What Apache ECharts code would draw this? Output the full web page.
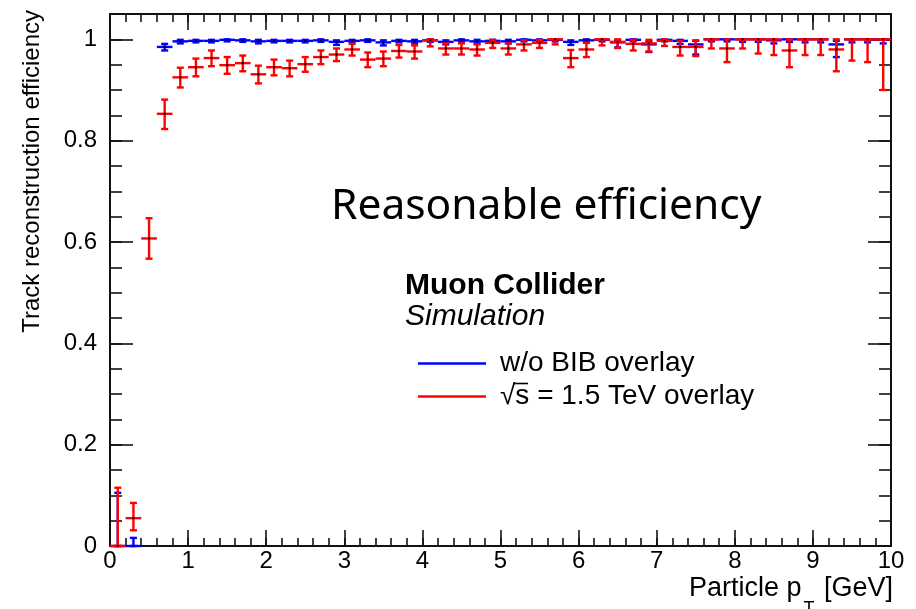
<!DOCTYPE html>
<html>
<head>
<meta charset="utf-8">
<script src="https://cdn.jsdelivr.net/npm/echarts@6/dist/echarts.min.js"></script>
<style>
  html, body { margin: 0; padding: 0; background: #ffffff; }
  #chart { width: 916px; height: 609px; }
</style>
</head>
<body>
<div id="chart"></div>
<script>
// Track-reconstruction efficiency vs particle pT, 0.2 GeV bins
const ptCenters = [
  0.1, 0.3, 0.5, 0.7, 0.9, 1.1, 1.3, 1.5, 1.7, 1.9,
  2.1, 2.3, 2.5, 2.7, 2.9, 3.1, 3.3, 3.5, 3.7, 3.9,
  4.1, 4.3, 4.5, 4.7, 4.9, 5.1, 5.3, 5.5, 5.7, 5.9,
  6.1, 6.3, 6.5, 6.7, 6.9, 7.1, 7.3, 7.5, 7.7, 7.9,
  8.1, 8.3, 8.5, 8.7, 8.9, 9.1, 9.3, 9.5, 9.7, 9.9
];
const binHalfWidth = 0.1;

// without beam-induced background
const effNoBIB = [
  0, 0, null, 0.985, 0.996, 0.997, 0.997, 0.999, 0.998, 0.996,
  0.997, 0.997, 0.997, 0.998, 0.995, 0.997, 0.998, 0.994, 0.997, 0.996,
  0.998, 0.995, 0.998, 0.996, 0.997, 0.996, 0.999, 0.998, 0.999, 0.995,
  0.998, 0.999, 0.994, 0.999, 0.990, 0.999, 0.997, 0.990, 1.000, 1.000,
  1.000, 1.000, 0.998, 1.000, 1.000, 1.000, 0.990, 1.000, 1.000, 1.000
];
const errLowNoBIB = [
  0, 0, 0, 0.007, 0.004, 0.003, 0.003, 0.003, 0.003, 0.004,
  0.003, 0.003, 0.003, 0.003, 0.006, 0.003, 0.003, 0.006, 0.003, 0.004,
  0.003, 0.005, 0.003, 0.004, 0.003, 0.004, 0.003, 0.003, 0.003, 0.006,
  0.003, 0.003, 0.010, 0.003, 0.015, 0.003, 0.006, 0.020, 0.004, 0.004,
  0.005, 0.005, 0.006, 0.005, 0.006, 0.006, 0.025, 0.006, 0.006, 0.008
];
const errHighNoBIB = [
  0.105, 0.016, 0, 0.006, 0.003, 0.002, 0.002, 0.001, 0.002, 0.003,
  0.002, 0.002, 0.002, 0.002, 0.003, 0.002, 0.002, 0.004, 0.002, 0.003,
  0.002, 0.003, 0.002, 0.003, 0.002, 0.003, 0.001, 0.002, 0.001, 0.003,
  0.002, 0.001, 0.004, 0.001, 0.006, 0.001, 0.002, 0.007, 0, 0,
  0, 0, 0.002, 0, 0, 0, 0.007, 0, 0, 0
];

// with BIB overlay, sqrt(s) = 1.5 TeV
const effBIB = [
  0, 0.055, 0.607, 0.853, 0.925, 0.945, 0.963, 0.949, 0.953, 0.931,
  0.945, 0.943, 0.951, 0.965, 0.970, 0.980, 0.960, 0.962, 0.977, 0.976,
  0.998, 0.982, 0.982, 0.980, 0.993, 0.982, 0.990, 0.993, 1.000, 0.963,
  0.980, 1.000, 0.995, 0.991, 0.992, 0.997, 0.985, 0.985, 1.000, 0.982,
  1.000, 1.000, 1.000, 0.978, 1.000, 1.000, 0.980, 1.000, 1.000, 1.000
];
const errLowBIB = [
  0, 0.024, 0.040, 0.030, 0.020, 0.018, 0.016, 0.017, 0.016, 0.018,
  0.016, 0.016, 0.015, 0.014, 0.013, 0.012, 0.015, 0.015, 0.013, 0.014,
  0.012, 0.012, 0.012, 0.012, 0.010, 0.012, 0.012, 0.010, 0.010, 0.018,
  0.015, 0.012, 0.012, 0.013, 0.016, 0.010, 0.017, 0.018, 0.018, 0.027,
  0.018, 0.028, 0.031, 0.033, 0.031, 0.031, 0.043, 0.042, 0.045, 0.100
];
const errHighBIB = [
  0.115, 0.030, 0.040, 0.028, 0.019, 0.017, 0.015, 0.016, 0.015, 0.017,
  0.015, 0.015, 0.014, 0.013, 0.012, 0.011, 0.014, 0.014, 0.012, 0.012,
  0.002, 0.010, 0.010, 0.010, 0.006, 0.010, 0.008, 0.006, 0, 0.016,
  0.013, 0, 0.005, 0.008, 0.007, 0.003, 0.012, 0.013, 0, 0.018,
  0, 0, 0, 0.022, 0, 0, 0.020, 0, 0, 0
];

const xMax = 10;
const xMajorStep = 1;
const xMinorStep = 0.2;
const yMax = 1.05;
const yMajorStep = 0.2;
const yMinorStep = 0.05;

const seriesNames = ['w/o BIB overlay', '\u221As = 1.5 TeV overlay'];
const seriesColors = ['#0000ff', '#ff0000'];

const FONT = '"Liberation Sans", Arial, Helvetica, sans-serif';
const INK = '#111';

function buildPoints(eff, lo, hi) {
  return ptCenters.map((x, i) => [x, eff[i] === null ? '-' : eff[i], lo[i], hi[i]]);
}

// ROOT-style error cross: bin-wide horizontal bar, capped vertical error bar, centre dot
function errorCross(color) {
  return function (params, api) {
    const y = api.value(1);
    if (isNaN(y)) return null;
    const x = api.value(0);
    const lo = api.value(2);
    const hi = api.value(3);
    const pL = api.coord([x - binHalfWidth, y]);
    const pR = api.coord([x + binHalfWidth, y]);
    const pB = api.coord([x, y - lo]);
    const pT = api.coord([x, y + hi]);
    const c = api.coord([x, y]);
    const cap = 3.5;
    const st = { stroke: color, lineWidth: 2.4, fill: null };
    const children = [
      { type: 'line', shape: { x1: pL[0], y1: c[1], x2: pR[0], y2: c[1] }, style: st },
      { type: 'line', shape: { x1: c[0], y1: pB[1], x2: c[0], y2: pT[1] }, style: st },
      { type: 'line', shape: { x1: c[0] - cap, y1: pB[1], x2: c[0] + cap, y2: pB[1] }, style: st },
      { type: 'line', shape: { x1: c[0] - cap, y1: pT[1], x2: c[0] + cap, y2: pT[1] }, style: st },
      { type: 'circle', shape: { cx: c[0], cy: c[1], r: 1.1 }, style: { fill: '#000' } }
    ];
    return { type: 'group', children: children };
  };
}

// frame axes carry the major ticks; companion axes carry the inward minor ticks
function axisDef(kind, position, step, tickLen, withLine, withLabels) {
  const isX = kind === 'x';
  const def = {
    type: 'value', position: position, offset: 0,
    min: 0, max: isX ? xMax : yMax, interval: step,
    axisLine: { show: withLine, onZero: false, lineStyle: { color: INK, width: 2 } },
    axisTick: { show: true, inside: true, length: tickLen, lineStyle: { color: INK, width: 1.6 } },
    minorTick: { show: false },
    splitLine: { show: false },
    axisLabel: { show: withLabels, fontSize: 24, color: '#000', fontFamily: FONT }
  };
  if (withLabels) {
    def.axisLabel.margin = isX ? 3 : 13;
    if (!isX) def.axisLabel.formatter = v => (v > 1.0001 ? '' : String(+v.toFixed(1)));
  }
  return def;
}

const chart = echarts.init(document.getElementById('chart'), null, { renderer: 'canvas' });

chart.setOption({
  backgroundColor: '#ffffff',
  animation: false,
  grid: { left: 110, right: 25, top: 14, bottom: 63, containLabel: false },
  xAxis: [
    axisDef('x', 'bottom', xMajorStep, 16, true, true),
    axisDef('x', 'bottom', xMinorStep, 8, false, false),
    axisDef('x', 'top', xMajorStep, 16, true, false),
    axisDef('x', 'top', xMinorStep, 8, false, false)
  ],
  yAxis: [
    axisDef('y', 'left', yMajorStep, 23, true, true),
    axisDef('y', 'left', yMinorStep, 12, false, false),
    axisDef('y', 'right', yMajorStep, 23, true, false),
    axisDef('y', 'right', yMinorStep, 12, false, false)
  ],
  legend: {
    orient: 'vertical', left: 418, top: 347, itemGap: 0, padding: 0,
    itemWidth: 68, itemHeight: 2.6, icon: 'rect',
    selectedMode: false,
    textStyle: { fontSize: 28, fontFamily: FONT, color: '#000', lineHeight: 33, padding: [0, 0, 0, 9] },
    data: seriesNames
  },
  series: [
    {
      name: seriesNames[0], type: 'custom', xAxisIndex: 0, yAxisIndex: 0,
      itemStyle: { color: seriesColors[0] },
      renderItem: errorCross(seriesColors[0]),
      data: buildPoints(effNoBIB, errLowNoBIB, errHighNoBIB),
      encode: { x: 0, y: 1 }, clip: false, z: 2
    },
    {
      name: seriesNames[1], type: 'custom', xAxisIndex: 0, yAxisIndex: 0,
      itemStyle: { color: seriesColors[1] },
      renderItem: errorCross(seriesColors[1]),
      data: buildPoints(effBIB, errLowBIB, errHighBIB),
      encode: { x: 0, y: 1 }, clip: false, z: 3
    }
  ],
  graphic: [
    {
      type: 'text', x: 32, y: 10, rotation: Math.PI / 2,
      style: { text: 'Track reconstruction efficiency', font: '24px ' + FONT, fill: '#000', align: 'right', verticalAlign: 'middle' }
    },
    {
      type: 'text', right: 23, top: 575,
      style: {
        text: '{a|Particle p}{s|T}{a| [GeV]}', fill: '#000',
        rich: {
          a: { fontSize: 27, fontFamily: FONT, color: '#000' },
          s: { fontSize: 18, fontFamily: FONT, color: '#000', verticalAlign: 'bottom', padding: [42, 2, 0, 2] }
        }
      }
    },
    {
      type: 'text', left: 405, top: 271,
      style: { text: 'Muon Collider', font: 'bold 30px ' + FONT, fill: '#000' }
    },
    {
      type: 'text', left: 405, top: 302,
      style: { text: 'Simulation', font: 'italic 30px ' + FONT, fill: '#000' }
    },
    {
      type: 'text', left: 331, top: 185,
      style: { text: 'Reasonable efficiency', font: '42.5px "Noto Sans", "Open Sans", sans-serif', fill: '#000' }
    },
    {
      // vinculum of the square root over "s" in the legend entry
      type: 'line', shape: { x1: 513, y1: 383.5, x2: 528, y2: 383.5 },
      style: { stroke: '#000', lineWidth: 1.6 }
    }
  ]
});
</script>
</body>
</html>
